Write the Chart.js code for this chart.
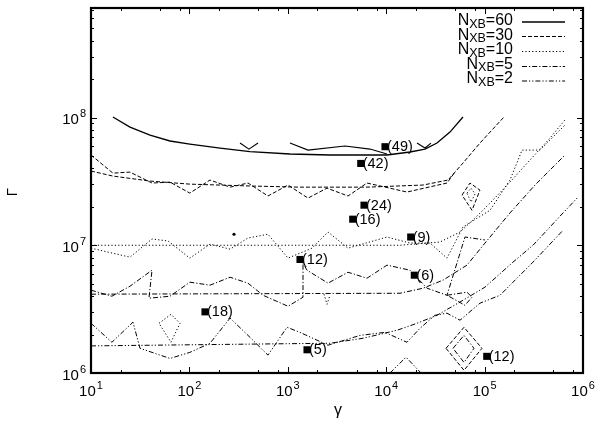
<!DOCTYPE html>
<html><head><meta charset="utf-8">
<script src="https://cdn.jsdelivr.net/npm/chart.js@4.4.1/dist/chart.umd.min.js"></script>
<style>html,body{margin:0;padding:0;background:#fff}canvas{display:block}</style>
</head><body>
<canvas id="c" width="600" height="430"></canvas>
<script>
// ---- axes ----
const xRange = [10, 1e6];
const yRange = [1e6, 7.2e8];
const xTickExponents = [1, 2, 3, 4, 5, 6];
const yTickExponents = [6, 7, 8];
const xMinorFactors = [2, 5, 8];
const yMinorFactors = [2, 3, 4, 5, 6, 7, 8, 9];

// ---- N_XB = 60 (solid) ----
const n60Fit = [[16.7,1.01e8],[24.9,8.42e7],[39.8,7.29e7],[63.5,6.55e7],[101,6.20e7],[205,5.77e7],[413,5.40e7],[1052,5.18e7],[2685,5.09e7],[10190,5.09e7],[17450,5.37e7],[24790,5.66e7],[32820,6.31e7],[44460,7.69e7],[60290,1.01e8]];
const n60SimA = [[327,6.31e7],[403,5.66e7],[498,6.31e7]];
const n60SimB = [[1052,6.31e7],[1604,5.56e7],[3813,5.98e7],[6837,5.66e7],[10190,5.18e7]];
const n60SimC = [[20560,6.31e7],[24790,5.77e7],[28520,6.31e7]];

// ---- N_XB = 30 (dashed) ----
const n30Fit = [[10,3.81e7],[16.7,3.48e7],[39.8,3.18e7],[101,3.01e7],[413,2.91e7],[1330,2.85e7],[6377,2.85e7],[23670,2.96e7],[42470,3.24e7],[50030,3.74e7],[60290,4.40e7],[89720,6.31e7],[157500,1.01e8]];
const n30Sim = [[10,5.09e7],[16.7,3.67e7],[24.9,3.74e7],[41.7,3.07e7],[63.5,3.12e7],[101,2.56e7],[162,3.24e7],[259,2.85e7],[394,3.07e7],[629,2.43e7],[1005,2.96e7],[1604,2.34e7],[2502,2.80e7],[4091,2.43e7],[6377,3.07e7],[16260,2.61e7],[41500,3.07e7],[50030,3.74e7]];
const n30Loop = [[58930,2.47e7],[71070,3.07e7],[89720,2.70e7],[74480,1.88e7],[58930,2.47e7]];
const n30LoopLow = [[49.1,2.45e6],[65.0,2.88e6],[80.2,2.45e6],[65.0,1.74e6],[49.1,2.45e6]];
const n30Diamond = [[40550,1.56e6],[61760,2.28e6],[94020,1.56e6],[61760,1.05e6],[40550,1.56e6]];

// ---- N_XB = 10 (dotted) ----
const n10Fit = [[10,1.00e7],[13810,1.00e7],[35240,1.06e7],[56240,1.27e7],[79850,1.63e7],[113600,2.14e7],[181100,3.12e7],[289300,4.65e7],[461900,6.90e7],[656700,9.60e7]];
const n10Sim = [[10,9.49e6],[24.9,8.07e6],[41.7,1.12e7],[60.7,1.08e7],[101,7.93e6],[162,1.02e7],[259,9.32e6],[394,1.14e7],[629,1.22e7],[1005,7.93e6],[1762,9.49e6],[2562,1.27e7],[4091,9.49e6],[10190,1.16e7],[17450,1.04e7],[27870,1.04e7],[41500,7.93e6],[60290,1.39e7],[113600,1.88e7],[181100,3.24e7],[240100,5.56e7],[365500,5.56e7],[656700,8.74e7]];
const n10Loop = [[66200,2.56e7],[72780,2.80e7],[79850,2.52e7],[72780,2.18e7],[66200,2.56e7]];
const n10Tiny = [[2335,4.14e6],[2502,3.45e6],[2685,4.06e6]];

// ---- N_XB = 5 (dash-dot) ----
const n5Fit = [[10,4.14e6],[13810,4.21e6],[23670,4.61e6],[37770,5.33e6],[66200,6.99e6],[100900,1.04e7],[181100,1.79e7],[325300,2.96e7],[656700,5.09e7]];
const n5Sim = [[10,4.45e6],[16.3,3.99e6],[24.9,4.78e6],[41.7,6.38e6],[38.8,3.85e6],[63.5,3.99e6],[101,5.14e6],[162,4.87e6],[259,5.62e6],[394,5.05e6],[560,4.06e6],[1005,3.33e6],[1427,3.92e6],[1427,7.25e6],[1567,6.38e6],[2562,5.05e6],[4091,6.15e6],[6377,5.52e6],[10190,6.99e6],[17450,6.38e6],[25980,4.61e6],[41500,4.06e6],[63180,1.16e7],[100900,1.10e7]];
const n5Loop = [[41500,4.06e6],[66200,4.29e6],[74480,3.92e6],[63180,3.39e6],[41500,4.06e6]];
const n5Diamond = [[47740,1.56e6],[61760,1.97e6],[78020,1.56e6],[61760,1.21e6],[47740,1.56e6]];

// ---- N_XB = 2 (dash-dot-dot) ----
const n2Fit = [[10,1.63e6],[2685,1.71e6],[5810,1.87e6],[12880,2.16e6],[20560,2.45e6],[32820,2.83e6],[60290,3.71e6],[100900,4.70e6],[194400,7.38e6],[310400,1.00e7],[626700,1.79e7],[889100,2.38e7]];
const n2Sim = [[10,2.45e6],[16.3,1.74e6],[26.7,2.50e6],[31.5,1.56e6],[63.5,1.30e6],[101,1.45e6],[162,1.71e6],[259,2.69e6],[394,1.97e6],[629,1.38e6],[981,2.28e6],[1330,2.08e6],[2562,1.65e6],[5420,1.97e6],[9720,2.08e6],[16260,1.74e6],[22060,2.24e6],[31320,2.83e6],[41500,2.94e6],[56240,2.59e6],[89720,3.52e6],[143500,4.06e6],[194400,5.14e6],[310400,7.38e6],[626700,1.31e7]];
const n2Peak = [[10930,1.0e6],[15890,1.33e6],[22590,1.0e6]];

// ---- labelled points ----
const pointGamma = [9720, 5510, 5946, 4567, 17740, 1330, 19300, 1567, 105100, 144];
const pointGammaCap = [5.91e7, 4.37e7, 2.06e7, 1.60e7, 1.16e7, 7.74e6, 5.83e6, 1.52e6, 1.35e6, 3.01e6];
const pointLabels = ['(49)', '(42)', '(24)', '(16)', '(9)', '(12)', '(6)', '(5)', '(12)', '(18)'];
const dotGamma = [284];
const dotGammaCap = [1.22e7];

// ---- legend ----
const legendLabels = ['60', '30', '10', '5', '2'];

const FONT = '"Liberation Sans", Arial, Helvetica, sans-serif';
const dashes = {
  solid: [],
  dashed: [4, 2],
  dotted: [1.2, 2.2],
  dashdot: [5, 2, 1.2, 2],
  dashdotdot: [5, 2, 1.2, 2, 1.2, 2]
};
const legendStyles = ['solid', 'dashed', 'dotted', 'dashdot', 'dashdotdot'];

function toXY(arr) { return arr.map(p => ({x: p[0], y: p[1]})); }
function lineSet(arr, style, w) {
  return {type: 'scatter', data: toXY(arr), showLine: true, pointRadius: 0, pointHoverRadius: 0,
    borderColor: '#000', backgroundColor: '#000', borderWidth: w || 1, borderDash: dashes[style], fill: false, tension: 0};
}

const datasets = [
  lineSet(n60Fit, 'solid', 1.3), lineSet(n60SimA, 'solid', 1.1), lineSet(n60SimB, 'solid', 1.1), lineSet(n60SimC, 'solid', 1.1),
  lineSet(n30Fit, 'dashed'), lineSet(n30Sim, 'dashed'), lineSet(n30Loop, 'dashed'), lineSet(n30LoopLow, 'dotted'), lineSet(n30Diamond, 'dashed'),
  lineSet(n10Fit, 'dotted'), lineSet(n10Sim, 'dotted'), lineSet(n10Loop, 'dotted'), lineSet(n10Tiny, 'dotted'),
  lineSet(n5Fit, 'dashdot'), lineSet(n5Sim, 'dashdot'), lineSet(n5Loop, 'dashdot'), lineSet(n5Diamond, 'dashdot'),
  lineSet(n2Fit, 'dashdotdot'), lineSet(n2Sim, 'dashdotdot'), lineSet(n2Peak, 'dashdotdot'),
  {type: 'scatter', data: pointGamma.map((g, i) => ({x: g, y: pointGammaCap[i]})), pointStyle: 'rect', pointRadius: 5,
   backgroundColor: '#000', borderColor: '#000', borderWidth: 0, showLine: false, clip: false},
  {type: 'scatter', data: dotGamma.map((g, i) => ({x: g, y: dotGammaCap[i]})), pointStyle: 'circle', pointRadius: 1.6,
   backgroundColor: '#000', borderColor: '#000', borderWidth: 0, showLine: false}
];
const POINTS_INDEX = datasets.length - 2;

function drawPow(ctx, base, exp, x, y, align) {
  ctx.font = '15px ' + FONT;
  const wb = ctx.measureText(base).width;
  ctx.font = '11px ' + FONT;
  const we = ctx.measureText(exp).width;
  const total = wb + we + 1;
  let x0 = align === 'center' ? x - total / 2 : x - total;
  ctx.textAlign = 'left';
  ctx.textBaseline = 'alphabetic';
  ctx.font = '15px ' + FONT;
  ctx.fillText(base, x0, y);
  ctx.font = '11px ' + FONT;
  ctx.fillText(exp, x0 + wb + 1, y - 7);
}

const decor = {
  id: 'decor',
  afterDatasetsDraw(chart) {
    const ctx = chart.ctx;
    const a = chart.chartArea;
    const xs = chart.scales.x, ys = chart.scales.y;
    ctx.save();
    ctx.fillStyle = '#000';
    ctx.strokeStyle = '#000';
    // ticks
    ctx.lineWidth = 1;
    ctx.setLineDash([]);
    ctx.beginPath();
    xTickExponents.forEach(n => {
      const px = Math.round(xs.getPixelForValue(Math.pow(10, n))) + 0.5;
      ctx.moveTo(px, a.bottom); ctx.lineTo(px, a.bottom - 6);
      ctx.moveTo(px, a.top); ctx.lineTo(px, a.top + 6);
      if (n < 6) xMinorFactors.forEach(k => {
        const q = Math.round(xs.getPixelForValue(k * Math.pow(10, n))) + 0.5;
        ctx.moveTo(q, a.bottom); ctx.lineTo(q, a.bottom - 3);
        ctx.moveTo(q, a.top); ctx.lineTo(q, a.top + 3);
      });
    });
    [6, 7, 8].forEach(n => {
      const py = Math.round(ys.getPixelForValue(Math.pow(10, n))) + 0.5;
      ctx.moveTo(a.left, py); ctx.lineTo(a.left + 6, py);
      ctx.moveTo(a.right, py); ctx.lineTo(a.right - 6, py);
      yMinorFactors.forEach(k => {
        const v = k * Math.pow(10, n);
        if (v > yRange[1]) return;
        const q = Math.round(ys.getPixelForValue(v)) + 0.5;
        ctx.moveTo(a.left, q); ctx.lineTo(a.left + 3, q);
        ctx.moveTo(a.right, q); ctx.lineTo(a.right - 3, q);
      });
    });
    ctx.stroke();
    // frame
    ctx.lineWidth = 2.2;
    ctx.strokeRect(a.left, a.top, a.right - a.left, a.bottom - a.top);

    // tick labels
    xTickExponents.forEach(n => {
      const px = xs.getPixelForValue(Math.pow(10, n));
      drawPow(ctx, '10', String(n), px, 396, 'center');
    });
    yTickExponents.forEach(n => {
      const py = ys.getPixelForValue(Math.pow(10, n));
      drawPow(ctx, '10', String(n), 86, py + 6.5, 'right');
    });

    // axis titles
    ctx.font = '16px ' + FONT;
    ctx.textAlign = 'center';
    ctx.textBaseline = 'alphabetic';
    ctx.fillText('γ', 338, 415);
    ctx.save();
    ctx.translate(16.5, 192);
    ctx.rotate(-Math.PI / 2);
    ctx.font = '15px ' + FONT;
    ctx.fillText('Γ', 0, 0);
    ctx.restore();

    // point labels
    const meta = chart.getDatasetMeta(POINTS_INDEX);
    ctx.font = '14.5px ' + FONT;
    ctx.textAlign = 'left';
    ctx.textBaseline = 'middle';
    meta.data.forEach((el, i) => {
      ctx.fillText(pointLabels[i], el.x + 2, el.y + 0.5);
    });

    // legend
    const rightX = 513;
    const baselines = [25, 39.5, 54, 68.5, 83];
    const lineYs = [21.5, 36, 51, 66, 80.5];
    legendLabels.forEach((lab, i) => {
      const b = baselines[i];
      ctx.textBaseline = 'alphabetic';
      ctx.textAlign = 'left';
      ctx.font = '16px ' + FONT;
      const wN = ctx.measureText('N').width;
      const tail = '=' + lab;
      const wT = ctx.measureText(tail).width;
      ctx.font = '12.5px ' + FONT;
      const wS = ctx.measureText('XB').width;
      const x0 = rightX - (wN + wS + wT);
      ctx.font = '16px ' + FONT;
      ctx.fillText('N', x0, b);
      ctx.font = '12.5px ' + FONT;
      ctx.fillText('XB', x0 + wN, b + 2.5);
      ctx.font = '16px ' + FONT;
      ctx.fillText(tail, x0 + wN + wS, b);
      ctx.beginPath();
      ctx.lineWidth = i === 0 ? 1.3 : 1;
      ctx.setLineDash(dashes[legendStyles[i]]);
      ctx.moveTo(522, lineYs[i] + 0.5);
      ctx.lineTo(565, lineYs[i] + 0.5);
      ctx.stroke();
    });
    ctx.restore();
  }
};

new Chart(document.getElementById('c'), {
  type: 'scatter',
  data: {datasets},
  options: {
    responsive: false,
    animation: false,
    events: [],
    layout: {padding: {left: 91, right: 17, top: 8, bottom: 57}},
    plugins: {legend: {display: false}, tooltip: {enabled: false}},
    scales: {
      x: {type: 'logarithmic', min: xRange[0], max: xRange[1], display: false},
      y: {type: 'logarithmic', min: yRange[0], max: yRange[1], display: false}
    }
  },
  plugins: [decor]
});
</script>
</body></html>
